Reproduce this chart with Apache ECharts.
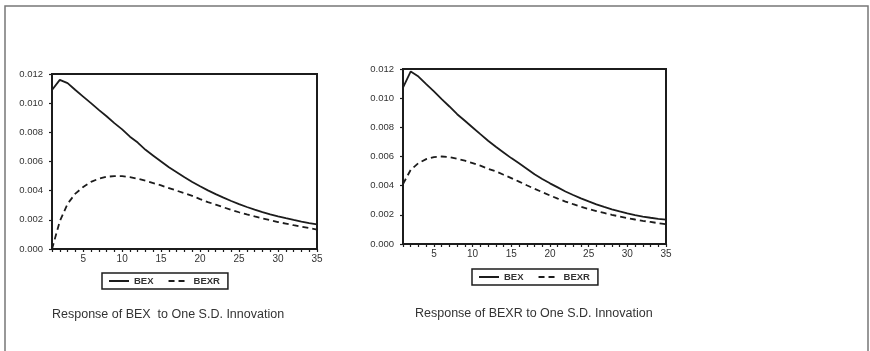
<!DOCTYPE html>
<html>
<head>
<meta charset="utf-8">
<script src="https://cdn.jsdelivr.net/npm/echarts@6/dist/echarts.min.js"></script>
<style>
html,body{margin:0;padding:0;background:#fff;}
#chart{width:870px;height:351px;}
</style>
</head>
<body>
<div id="chart"></div>
<script>
const periods = ['1','2','3','4','5','6','7','8','9','10','11','12','13','14','15','16','17','18','19','20','21','22','23','24','25','26','27','28','29','30','31','32','33','34','35'];
const yTicks = [0.000, 0.002, 0.004, 0.006, 0.008, 0.010, 0.012];
const seriesNames = ['BEX', 'BEXR'];
const panelTitles = ['Response of BEX  to One S.D. Innovation', 'Response of BEXR to One S.D. Innovation'];

// Response of BEX to one S.D. innovation
const bexOnBex = [0.0109,0.0116,0.01137,0.0109,0.01045,0.0100,0.00954,0.0091,0.00863,0.0082,0.0077,0.0073,0.0068,0.0064,0.0060,0.0056,0.00526,0.00492,0.0046,0.0043,0.00402,0.00376,0.00352,0.00329,0.00308,0.00288,0.0027,0.00253,0.00238,0.00224,0.00211,0.00199,0.00188,0.00178,0.00169];
const bexrOnBex = [0.0000,0.0019,0.0031,0.0038,0.00425,0.0046,0.00482,0.00495,0.0050,0.0050,0.00493,0.00482,0.00468,0.00452,0.00436,0.00418,0.0040,0.00382,0.00364,0.00342,0.00322,0.00304,0.00286,0.00268,0.00252,0.00237,0.00223,0.0021,0.00197,0.00185,0.00174,0.00163,0.00153,0.00143,0.00133];

// Response of BEXR to one S.D. innovation
const bexOnBexr = [0.01073,0.01183,0.01148,0.01096,0.01046,0.00993,0.00943,0.0089,0.00845,0.00799,0.00753,0.00708,0.00667,0.00628,0.00589,0.00553,0.00516,0.00478,0.00446,0.00416,0.00388,0.0036,0.00336,0.00313,0.00292,0.00272,0.00254,0.00238,0.00223,0.0021,0.00198,0.00188,0.0018,0.00173,0.00167];
const bexrOnBexr = [0.00411,0.00509,0.00555,0.00582,0.00596,0.0060,0.00596,0.00584,0.00571,0.00555,0.00537,0.00516,0.00498,0.00475,0.00452,0.00428,0.00403,0.00379,0.00356,0.00333,0.00311,0.00291,0.00273,0.00256,0.0024,0.00226,0.00213,0.0020,0.00189,0.00178,0.00168,0.00159,0.00151,0.00143,0.00136];

const ink = '#1c1c1c';
const font = 'Liberation Sans, Arial, sans-serif';

const grids = [
  {left: 52, top: 74, width: 265, height: 175},
  {left: 403, top: 69, width: 263, height: 175}
];

function xAxis(gi) {
  return {
    type: 'category', gridIndex: gi, data: periods, boundaryGap: false,
    axisLine: {show: true, lineStyle: {color: ink, width: 2}},
    axisTick: {show: true, interval: 0, length: 3, lineStyle: {color: ink, width: 1.2}},
    axisLabel: {interval: function (i, v) { return Number(v) % 5 === 0; }, color: '#333', fontSize: 10, fontFamily: font, margin: 5},
    splitLine: {show: false}
  };
}
function yAxis(gi) {
  return {
    type: 'value', gridIndex: gi, min: yTicks[0], max: yTicks[yTicks.length - 1], interval: 0.002,
    axisLine: {show: true, lineStyle: {color: ink, width: 2}},
    axisTick: {show: true, length: 3, lineStyle: {color: ink, width: 1.2}},
    axisLabel: {formatter: function (v) { return v.toFixed(3); }, color: '#333', fontSize: 9.5, fontFamily: font, margin: 9},
    splitLine: {show: false}
  };
}
function line(name, gi, data, dashed) {
  return {
    name: name, type: 'line', xAxisIndex: gi, yAxisIndex: gi, data: data,
    symbol: 'none', smooth: false, silent: true,
    lineStyle: {color: ink, width: 1.8, type: dashed ? [6, 4] : 'solid'},
    itemStyle: {color: ink}
  };
}
function legend(left, top) {
  return {
    left: left, top: top, orient: 'horizontal', selectedMode: false,
    data: seriesNames,
    borderColor: ink, borderWidth: 1.5, padding: [3, 8, 3, 6],
    itemWidth: 20, itemHeight: 8, itemGap: 14,
    itemStyle: {opacity: 0},
    textStyle: {fontSize: 9.5, fontFamily: font, color: '#333', fontWeight: 'bold'}
  };
}

const chart = echarts.init(document.getElementById('chart'), null, {renderer: 'canvas'});
chart.setOption({
  backgroundColor: '#fff',
  animation: false,
  graphic: [{
    type: 'rect', shape: {x: 5, y: 6, width: 863, height: 360},
    style: {fill: 'none', stroke: '#777', lineWidth: 1.5}, silent: true, z: -1
  }],
  title: [
    {text: panelTitles[0], left: 52, top: 308, padding: 0, textStyle: {fontSize: 12.5, fontWeight: 'normal', fontFamily: font, color: '#333'}},
    {text: panelTitles[1], left: 415, top: 307, padding: 0, textStyle: {fontSize: 12.5, fontWeight: 'normal', fontFamily: font, color: '#333'}}
  ],
  grid: grids.map(g => Object.assign({show: true, borderColor: ink, borderWidth: 2, backgroundColor: 'transparent'}, g)),
  xAxis: [xAxis(0), xAxis(1)],
  yAxis: [yAxis(0), yAxis(1)],
  legend: [legend(102, 273), legend(472, 269)],
  series: [
    line(seriesNames[0], 0, bexOnBex, false),
    line(seriesNames[1], 0, bexrOnBex, true),
    line(seriesNames[0], 1, bexOnBexr, false),
    line(seriesNames[1], 1, bexrOnBexr, true)
  ]
});
</script>
</body>
</html>
